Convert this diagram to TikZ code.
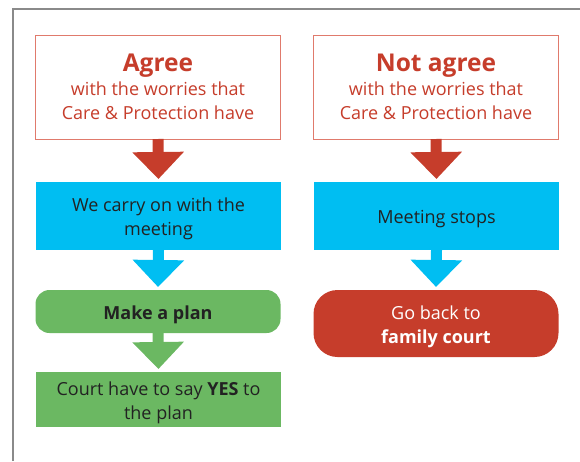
\documentclass[tikz,border=0pt]{standalone}
\usepackage{fontspec}
\setmainfont{Open Sans}
\usetikzlibrary{arrows.meta,calc}
\definecolor{cpred}{HTML}{C63D2B}
\definecolor{cpline}{HTML}{E07A6C}
\definecolor{cpblue}{HTML}{00BEF2}
\definecolor{cpgreen}{HTML}{6BB862}
\definecolor{cptext}{HTML}{222222}
\definecolor{cpframe}{HTML}{8A8A8A}
\newcommand{\lowerstrut}{\rule{0pt}{19.5pt}}
\begin{document}
\begin{tikzpicture}[x=1pt,y=-1pt,
  base/.style={inner sep=0pt, outer sep=0pt, align=center, minimum width=245pt, font=\fontsize{18}{24}\selectfont, text=cptext},
  headbox/.style={base, draw=cpline, line width=1pt, fill=white, minimum height=104pt, text=cpred},
  bluebox/.style={base, fill=cpblue, minimum height=68pt},
  greenbox/.style={base, fill=cpgreen},
  flowarrow/.style={line width=11pt, -{Triangle[width=50pt,length=27pt]}, shorten >=3pt}
]
\useasboundingbox (0,0) rectangle (580,461);
\draw[cpframe, line width=1.5pt] (13,461) -- (13,9) -- (580,9);

% left column
\node[headbox] (agree) at (158,87) {{\fontsize{24.5}{27}\selectfont\bfseries Agree}\\with the worries that\\Care \& Protection have};
\node[bluebox] (carry) at (158.5,216) {\lowerstrut We carry on with the\\meeting};
\node[greenbox, minimum height=43pt, rounded corners=14pt] (plan) at (158,311.5) {\lowerstrut\bfseries Make a plan};
\node[greenbox, minimum height=55pt] (court) at (158.5,399.5) {\lowerstrut Court have to say \textbf{YES} to\\the plan};

% right column
\node[headbox] (notagree) at (436,87) {{\fontsize{24.5}{27}\selectfont\bfseries Not agree}\\with the worries that\\Care \& Protection have};
\node[bluebox] (stops) at (436.5,216) {\lowerstrut Meeting stops};
\node[base, fill=cpred, minimum height=67pt, rounded corners=24pt, text=white] (family) at (436,323.5) {\lowerstrut Go back to\\\textbf{family court}};

% connectors
\draw[flowarrow, cpred] (agree.south) -- (carry.north);
\draw[flowarrow, cpblue] (carry.south) -- (plan.north);
\draw[flowarrow, cpgreen] (plan.south) -- (court.north);
\draw[flowarrow, cpred] (notagree.south) -- (stops.north);
\draw[flowarrow, cpblue] (stops.south) -- (family.north);
\end{tikzpicture}
\end{document}
